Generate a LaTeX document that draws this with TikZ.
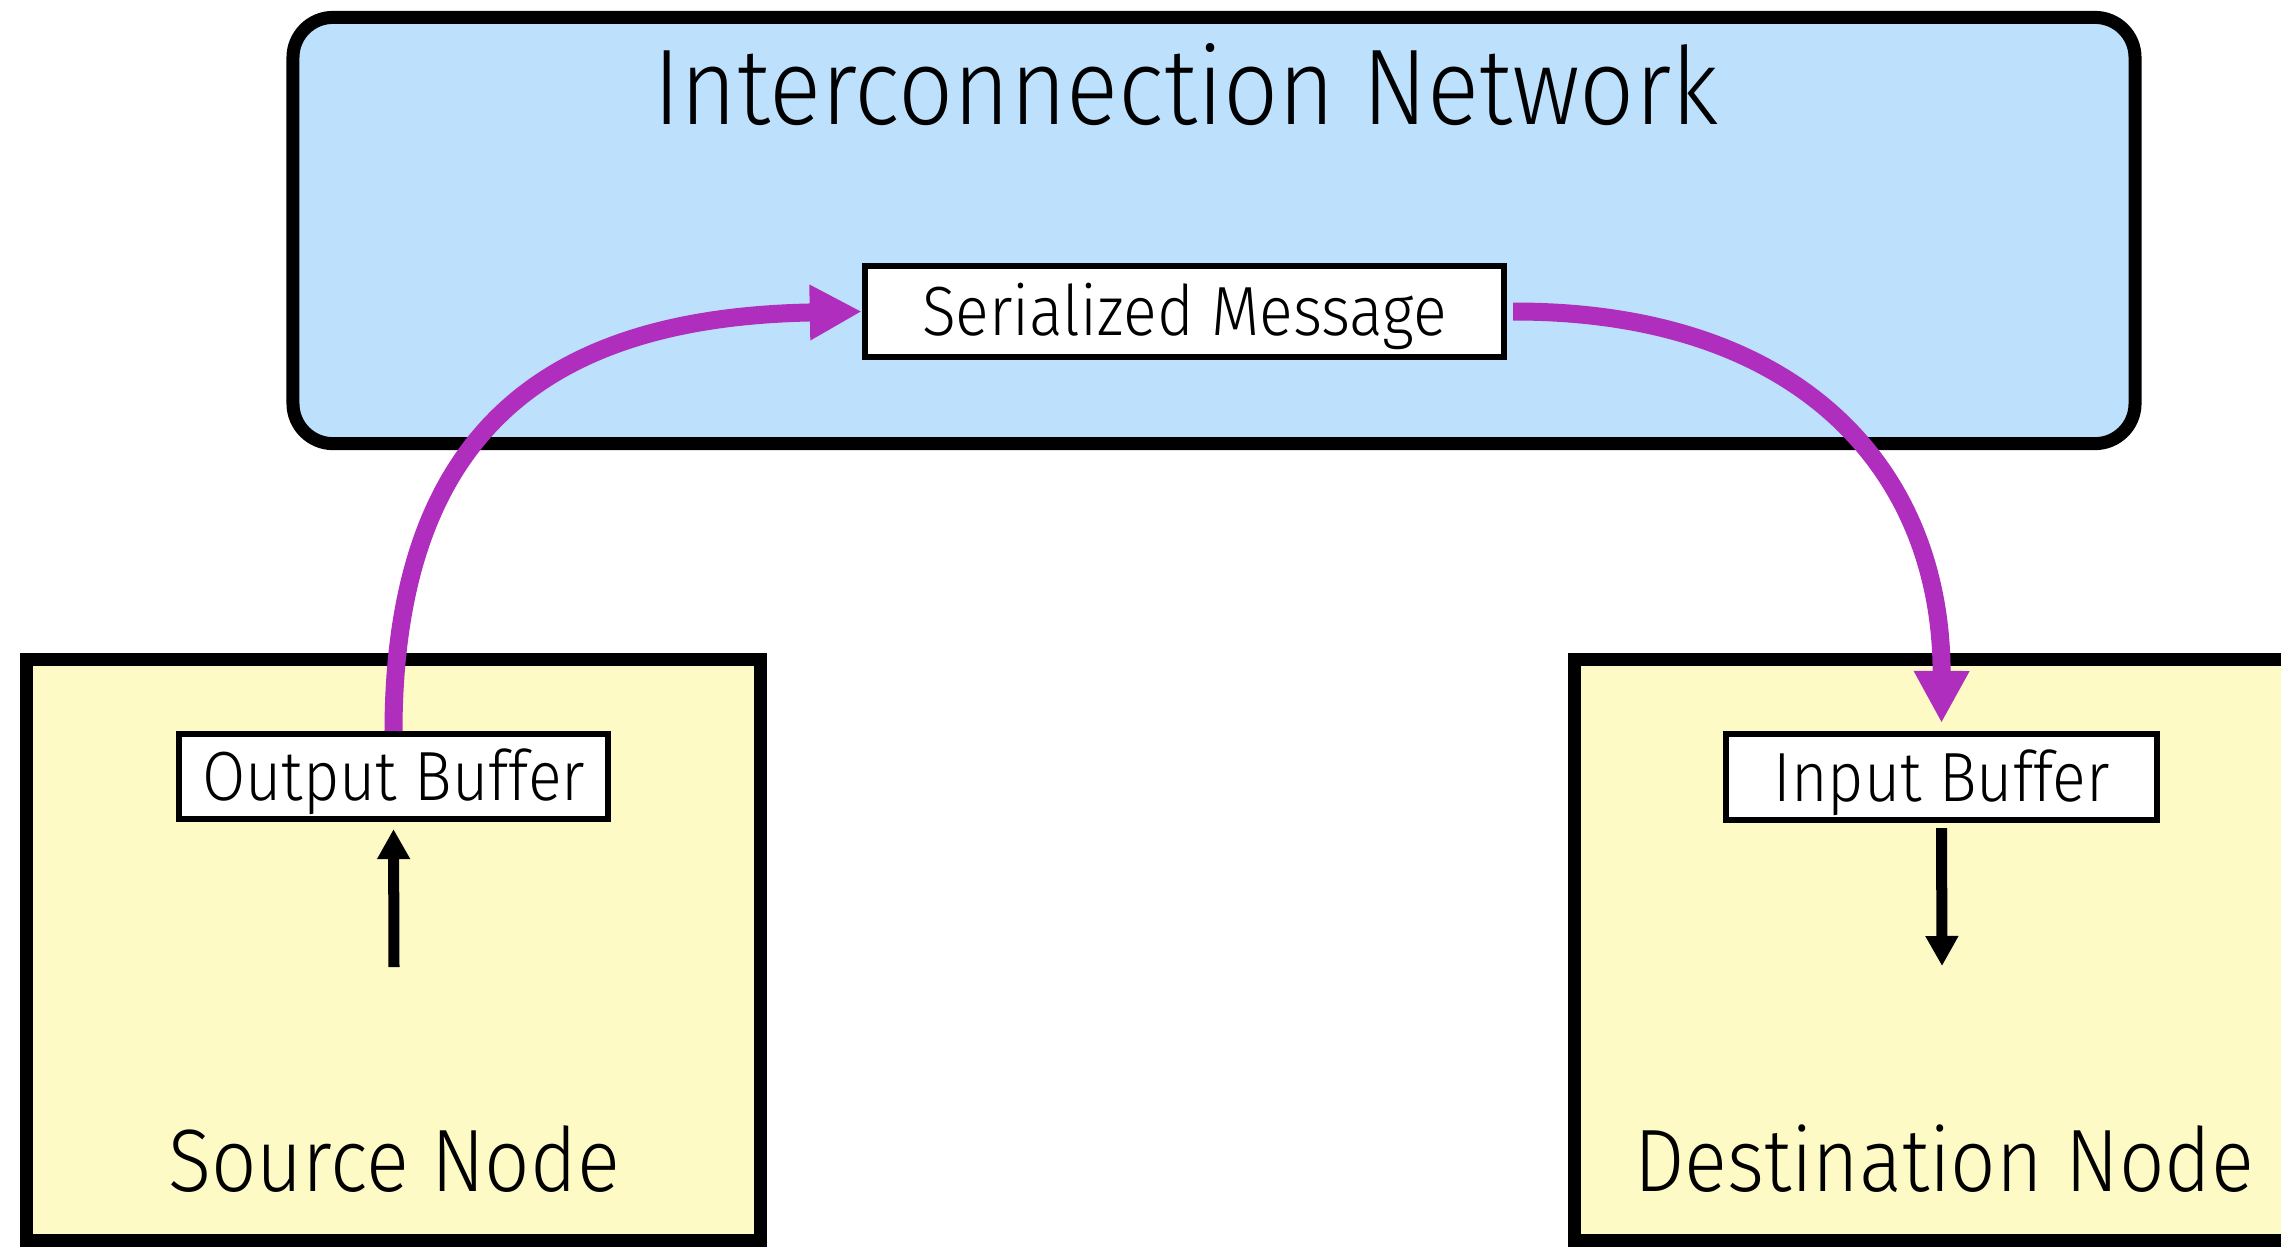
\documentclass[tikz,border=0pt]{standalone}
\usepackage{fontspec}
\setmainfont{Fira Sans Light}[FakeStretch=0.9]
\usetikzlibrary{arrows.meta,shadows}

\definecolor{netblue}{RGB}{189,224,252}
\definecolor{hostyellow}{RGB}{253,250,197}
\definecolor{msgpurple}{RGB}{176,46,190}

\tikzset{
	netbox/.style={draw, line width=0.13cm, fill=netblue, rounded corners=0.4cm,
		drop shadow={shadow xshift=0.02cm, shadow yshift=-0.03cm, opacity=0.3}},
	hostbox/.style={draw, line width=0.13cm, fill=hostyellow,
		drop shadow={shadow xshift=0.02cm, shadow yshift=-0.02cm, opacity=0.15}},
	bufbox/.style={draw, line width=0.06cm, fill=white, inner sep=0pt,
		text height=0.48cm, text depth=0pt, font=\fontsize{19.8}{24}\selectfont,
		drop shadow={shadow xshift=0.01cm, shadow yshift=-0.025cm, opacity=0.4}},
	hostlabel/.style={anchor=base, font=\fontsize{25.2}{30}\selectfont},
	msgflow/.style={msgpurple, line width=0.18cm, -{Triangle[length=0.52cm, width=0.52cm]}},
	feed/.style={line width=0.11cm, -{Triangle[length=0.3cm, width=0.31cm]}},
}

\begin{document}
\begin{tikzpicture}[x=0.01cm, y=-0.01cm]
		%%%%% START %%%%%
		\useasboundingbox (0,0) rectangle (2281,1247);
		\clip (0,0) rectangle (2281,1247);
		
		\node[netbox, minimum width=18.41cm, minimum height=4.26cm] (net) at (1214,230.5) {};
		\node[anchor=base, font=\fontsize{30.6}{36}\selectfont] (nettitle) at (1186,124) {Interconnection Network};
		\node[bufbox, minimum width=6.39cm, minimum height=0.91cm] (msg) at (1184.5,311.5) {Serialized Message};
		
		\node[hostbox, minimum width=7.34cm, minimum height=5.81cm] (src) at (393.5,950) {};
		\node[hostlabel] (srclabel) at (394,1191) {Source Node};
		\node[bufbox, minimum width=4.29cm, minimum height=0.85cm] (ob) at (393.5,776.5) {Output Buffer};
		
		\node[hostbox, minimum width=8.255cm, minimum height=5.81cm] (dst) at (1987.25,950) {};
		\node[hostlabel] (dstlabel) at (1944,1191) {Destination Node};
		\node[bufbox, minimum width=4.31cm, minimum height=0.86cm] (ib) at (1941.5,777) {Input Buffer};
		
		\coordinate (srcfeed) at (394,967);
		\coordinate (dstfeed) at (1942,966);
		\draw[feed, shorten >=0.07cm] (srcfeed) -- (ob.south);
		\draw[feed, shorten <=0.05cm] (ib.south) -- (dstfeed);
		
		\draw[msgflow] (ob.north) .. controls (394,420) and (560,317) .. (msg.west);
		\draw[msgflow, shorten <=0.06cm, shorten >=0.08cm] (msg.east) .. controls (1800,311) and (1942,470) .. (ib.north);
		
		%%%%% END %%%%%
\end{tikzpicture}
\end{document}
